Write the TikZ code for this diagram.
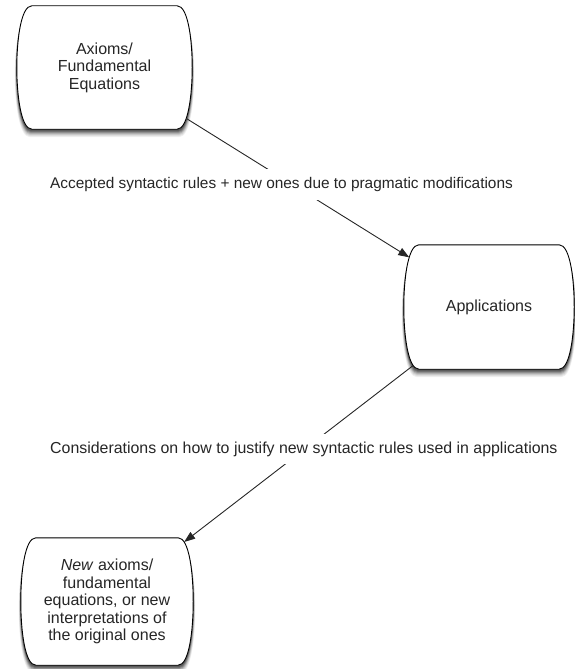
\documentclass[tikz,border=0pt]{standalone}
\usepackage{fontspec}
\setmainfont{Liberation Sans}
\usetikzlibrary{arrows.meta,calc,intersections}
\newcommand{\bulgepath}[3]{($(#1.north west)+(15-#3,#2)$) -- ($(#1.north east)+(-15+#3,#2)$)
     .. controls ($(#1.north east)+(-4+#3,#2)$) and ($(#1.north east)+(#3,35+#2)$) .. ($(#1.east)+(#3,#2)$)
     .. controls ($(#1.south east)+(#3,-35+#2)$) and ($(#1.south east)+(-4+#3,#2)$) .. ($(#1.south east)+(-15+#3,#2)$)
     -- ($(#1.south west)+(15-#3,#2)$)
     .. controls ($(#1.south west)+(4-#3,#2)$) and ($(#1.south west)+(-#3,-35+#2)$) .. ($(#1.west)+(-#3,#2)$)
     .. controls ($(#1.north west)+(-#3,35+#2)$) and ($(#1.north west)+(4-#3,#2)$) .. cycle}
\newcommand{\bulgeoutline}[2]{%
  \fill[black!6]  \bulgepath{#1}{8}{2};
  \fill[black!12] \bulgepath{#1}{7}{1.7};
  \fill[black!20] \bulgepath{#1}{6}{1.4};
  \fill[black!30] \bulgepath{#1}{5}{1.1};
  \fill[black!42] \bulgepath{#1}{4}{0.8};
  \fill[black!54] \bulgepath{#1}{3}{0.5};
  \fill[black!64] \bulgepath{#1}{2}{0.3};
  \path[outl, name path global=#2] \bulgepath{#1}{0}{0};}
\begin{document}
\begin{tikzpicture}[x=1pt,y=-1pt,
  box/.style={rectangle, draw=none, align=center, text=black!85, inner sep=0pt,
    font=\fontsize{16}{17.5}\selectfont},
  outl/.style={draw=black, line width=0.9pt, fill=white},
  conn/.style={draw=black!85, line width=0.9pt, -{Triangle[length=11pt,width=8pt]}},
  lbl/.style={fill=white, inner xsep=2pt, inner ysep=8pt, anchor=west, text=black!85}]
\useasboundingbox (0,0) rectangle (574,669);
\path (104.5,67.5) coordinate (cax) (489,307) coordinate (capp) (107,601.5) coordinate (cnw);
\node[box, minimum width=175pt, minimum height=123pt] (ax) at (cax) {};
\node[box, minimum width=170pt, minimum height=124pt] (app) at (capp) {};
\node[box, minimum width=172pt, minimum height=127pt] (nw) at (cnw) {};
\bulgeoutline{ax}{oax}
\bulgeoutline{app}{oapp}
\bulgeoutline{nw}{onw}
\node[box] (axt) at (ax.center) {Axioms/\\Fundamental\\Equations};
\node[box] (appt) at (app.center) {Applications};
\node[box] (nwt) at (nw.center) {\textit{New} axioms/\\fundamental\\equations, or new\\interpretations of\\the original ones};
\path[name path=c1] (ax.center) -- (app.center);
\path[name path=c2] (app.center) -- (nw.center);
\path[name intersections={of=c1 and oax, by=s1}];
\path[name intersections={of=c1 and oapp, by=e1}];
\path[name intersections={of=c2 and oapp, by=s2}];
\path[name intersections={of=c2 and onw, by=e2}];
\draw[conn] (s1) -- (e1);
\draw[conn] (s2) -- (e2);
\node[lbl, font=\fontsize{15.4}{17}\selectfont] (l1) at (48,184.5) {Accepted syntactic rules + new ones due to pragmatic modifications};
\node[lbl, font=\fontsize{15.9}{17}\selectfont] (l2) at (48,449) {Considerations on how to justify new syntactic rules used in applications};
\end{tikzpicture}
\end{document}
